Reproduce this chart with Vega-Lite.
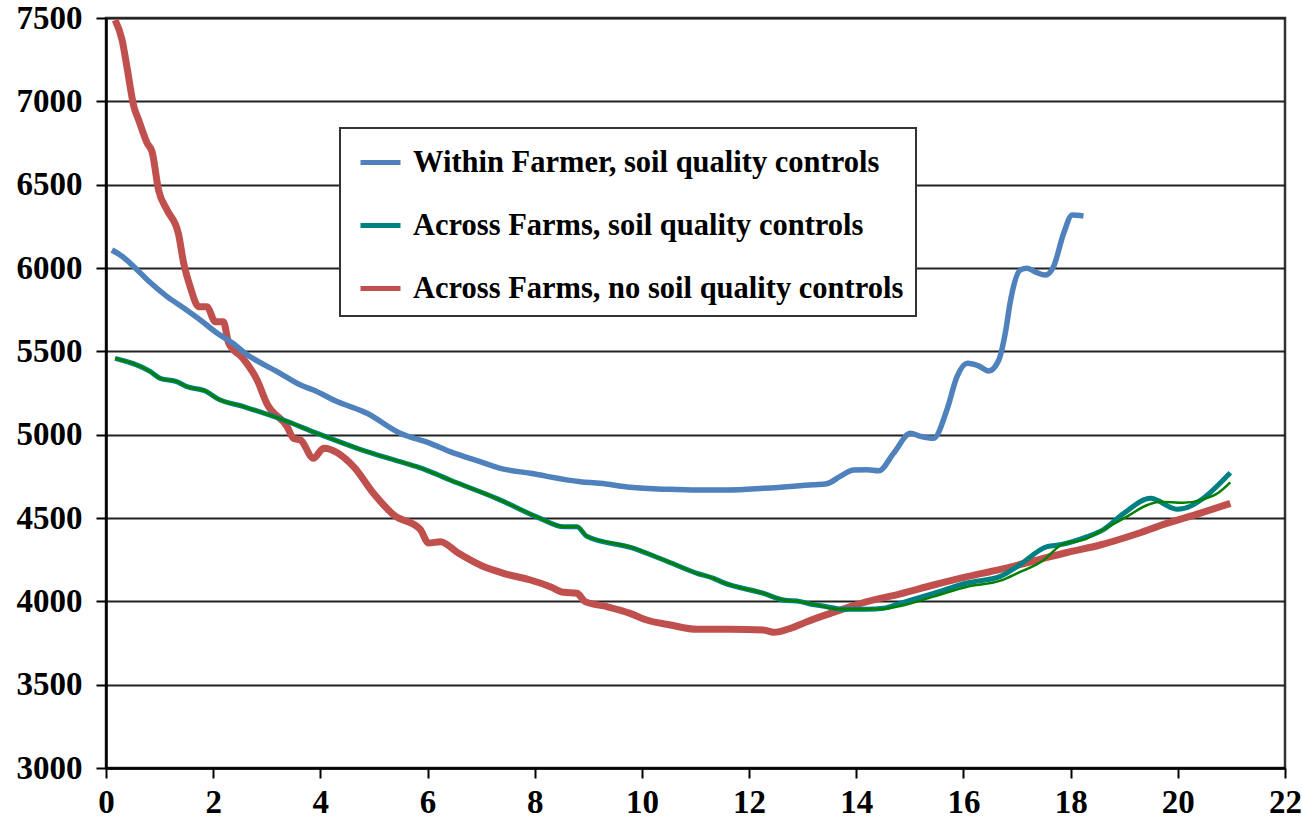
{
  "$schema": "https://vega.github.io/schema/vega-lite/v6.json",
  "width": 1179,
  "height": 750,
  "autosize": {"type": "none"},
  "padding": {"left": 106, "top": 18, "right": 17, "bottom": 68},
  "background": "white",
  "config": {"view": {"stroke": "#333333", "strokeWidth": 2.5}, "font": "Liberation Serif"},
  "datasets": {
    "main": [
      {"s": "Across Farms, no soil quality controls", "x": 0.17, "v": 7488},
      {"s": "Across Farms, no soil quality controls", "x": 0.30, "v": 7368},
      {"s": "Across Farms, no soil quality controls", "x": 0.39, "v": 7208},
      {"s": "Across Farms, no soil quality controls", "x": 0.52, "v": 6968},
      {"s": "Across Farms, no soil quality controls", "x": 0.61, "v": 6888},
      {"s": "Across Farms, no soil quality controls", "x": 0.77, "v": 6748},
      {"s": "Across Farms, no soil quality controls", "x": 0.86, "v": 6698},
      {"s": "Across Farms, no soil quality controls", "x": 0.98, "v": 6468},
      {"s": "Across Farms, no soil quality controls", "x": 1.14, "v": 6348},
      {"s": "Across Farms, no soil quality controls", "x": 1.35, "v": 6208},
      {"s": "Across Farms, no soil quality controls", "x": 1.45, "v": 6028},
      {"s": "Across Farms, no soil quality controls", "x": 1.57, "v": 5888},
      {"s": "Across Farms, no soil quality controls", "x": 1.73, "v": 5768},
      {"s": "Across Farms, no soil quality controls", "x": 1.88, "v": 5768},
      {"s": "Across Farms, no soil quality controls", "x": 2.04, "v": 5678},
      {"s": "Across Farms, no soil quality controls", "x": 2.19, "v": 5678},
      {"s": "Across Farms, no soil quality controls", "x": 2.29, "v": 5548},
      {"s": "Across Farms, no soil quality controls", "x": 2.55, "v": 5460},
      {"s": "Across Farms, no soil quality controls", "x": 2.82, "v": 5328},
      {"s": "Across Farms, no soil quality controls", "x": 3.0, "v": 5188},
      {"s": "Across Farms, no soil quality controls", "x": 3.38, "v": 5048},
      {"s": "Across Farms, no soil quality controls", "x": 3.5, "v": 4978},
      {"s": "Across Farms, no soil quality controls", "x": 3.63, "v": 4968},
      {"s": "Across Farms, no soil quality controls", "x": 3.87, "v": 4858},
      {"s": "Across Farms, no soil quality controls", "x": 4.06, "v": 4918},
      {"s": "Across Farms, no soil quality controls", "x": 4.62, "v": 4808},
      {"s": "Across Farms, no soil quality controls", "x": 4.99, "v": 4648},
      {"s": "Across Farms, no soil quality controls", "x": 5.37, "v": 4518},
      {"s": "Across Farms, no soil quality controls", "x": 5.86, "v": 4433},
      {"s": "Across Farms, no soil quality controls", "x": 6.02, "v": 4350},
      {"s": "Across Farms, no soil quality controls", "x": 6.24, "v": 4358},
      {"s": "Across Farms, no soil quality controls", "x": 6.58, "v": 4288},
      {"s": "Across Farms, no soil quality controls", "x": 7.0, "v": 4215},
      {"s": "Across Farms, no soil quality controls", "x": 7.42, "v": 4168},
      {"s": "Across Farms, no soil quality controls", "x": 7.92, "v": 4128},
      {"s": "Across Farms, no soil quality controls", "x": 8.29, "v": 4088},
      {"s": "Across Farms, no soil quality controls", "x": 8.54, "v": 4054},
      {"s": "Across Farms, no soil quality controls", "x": 8.79, "v": 4048},
      {"s": "Across Farms, no soil quality controls", "x": 8.94, "v": 3998},
      {"s": "Across Farms, no soil quality controls", "x": 9.35, "v": 3968},
      {"s": "Across Farms, no soil quality controls", "x": 9.78, "v": 3928},
      {"s": "Across Farms, no soil quality controls", "x": 10.09, "v": 3888},
      {"s": "Across Farms, no soil quality controls", "x": 10.53, "v": 3858},
      {"s": "Across Farms, no soil quality controls", "x": 11.03, "v": 3832},
      {"s": "Across Farms, no soil quality controls", "x": 11.65, "v": 3832},
      {"s": "Across Farms, no soil quality controls", "x": 12.27, "v": 3828},
      {"s": "Across Farms, no soil quality controls", "x": 12.46, "v": 3814},
      {"s": "Across Farms, no soil quality controls", "x": 12.77, "v": 3838},
      {"s": "Across Farms, no soil quality controls", "x": 13.08, "v": 3878},
      {"s": "Across Farms, no soil quality controls", "x": 13.52, "v": 3928},
      {"s": "Across Farms, no soil quality controls", "x": 14.2, "v": 3998},
      {"s": "Across Farms, no soil quality controls", "x": 14.82, "v": 4045},
      {"s": "Across Farms, no soil quality controls", "x": 15.44, "v": 4098},
      {"s": "Across Farms, no soil quality controls", "x": 16.07, "v": 4148},
      {"s": "Across Farms, no soil quality controls", "x": 16.69, "v": 4192},
      {"s": "Across Farms, no soil quality controls", "x": 17.31, "v": 4242},
      {"s": "Across Farms, no soil quality controls", "x": 17.93, "v": 4293},
      {"s": "Across Farms, no soil quality controls", "x": 18.55, "v": 4338},
      {"s": "Across Farms, no soil quality controls", "x": 19.17, "v": 4398},
      {"s": "Across Farms, no soil quality controls", "x": 19.79, "v": 4468},
      {"s": "Across Farms, no soil quality controls", "x": 20.41, "v": 4528},
      {"s": "Across Farms, no soil quality controls", "x": 20.98, "v": 4588},

      {"s": "Within Farmer, soil quality controls", "x": 0.11, "v": 6108},
      {"s": "Within Farmer, soil quality controls", "x": 0.3, "v": 6070},
      {"s": "Within Farmer, soil quality controls", "x": 0.52, "v": 6008},
      {"s": "Within Farmer, soil quality controls", "x": 0.8, "v": 5920},
      {"s": "Within Farmer, soil quality controls", "x": 1.14, "v": 5828},
      {"s": "Within Farmer, soil quality controls", "x": 1.45, "v": 5760},
      {"s": "Within Farmer, soil quality controls", "x": 1.76, "v": 5688},
      {"s": "Within Farmer, soil quality controls", "x": 2.07, "v": 5610},
      {"s": "Within Farmer, soil quality controls", "x": 2.38, "v": 5545},
      {"s": "Within Farmer, soil quality controls", "x": 2.6, "v": 5488},
      {"s": "Within Farmer, soil quality controls", "x": 3.25, "v": 5368},
      {"s": "Within Farmer, soil quality controls", "x": 3.63, "v": 5298},
      {"s": "Within Farmer, soil quality controls", "x": 3.87, "v": 5268},
      {"s": "Within Farmer, soil quality controls", "x": 4.3, "v": 5200},
      {"s": "Within Farmer, soil quality controls", "x": 4.87, "v": 5128},
      {"s": "Within Farmer, soil quality controls", "x": 5.49, "v": 5008},
      {"s": "Within Farmer, soil quality controls", "x": 6.05, "v": 4948},
      {"s": "Within Farmer, soil quality controls", "x": 6.42, "v": 4898},
      {"s": "Within Farmer, soil quality controls", "x": 6.98, "v": 4838},
      {"s": "Within Farmer, soil quality controls", "x": 7.36, "v": 4798},
      {"s": "Within Farmer, soil quality controls", "x": 7.92, "v": 4768},
      {"s": "Within Farmer, soil quality controls", "x": 8.85, "v": 4718},
      {"s": "Within Farmer, soil quality controls", "x": 9.22, "v": 4708},
      {"s": "Within Farmer, soil quality controls", "x": 9.78, "v": 4684},
      {"s": "Within Farmer, soil quality controls", "x": 10.5, "v": 4672},
      {"s": "Within Farmer, soil quality controls", "x": 11.03, "v": 4668},
      {"s": "Within Farmer, soil quality controls", "x": 11.6, "v": 4668},
      {"s": "Within Farmer, soil quality controls", "x": 12.27, "v": 4678},
      {"s": "Within Farmer, soil quality controls", "x": 12.89, "v": 4692},
      {"s": "Within Farmer, soil quality controls", "x": 13.2, "v": 4700},
      {"s": "Within Farmer, soil quality controls", "x": 13.45, "v": 4706},
      {"s": "Within Farmer, soil quality controls", "x": 13.7, "v": 4750},
      {"s": "Within Farmer, soil quality controls", "x": 13.95, "v": 4788},
      {"s": "Within Farmer, soil quality controls", "x": 14.2, "v": 4790},
      {"s": "Within Farmer, soil quality controls", "x": 14.42, "v": 4784},
      {"s": "Within Farmer, soil quality controls", "x": 14.7, "v": 4890},
      {"s": "Within Farmer, soil quality controls", "x": 15.01, "v": 5008},
      {"s": "Within Farmer, soil quality controls", "x": 15.2, "v": 4990},
      {"s": "Within Farmer, soil quality controls", "x": 15.44, "v": 4978},
      {"s": "Within Farmer, soil quality controls", "x": 15.69, "v": 5148},
      {"s": "Within Farmer, soil quality controls", "x": 15.88, "v": 5348},
      {"s": "Within Farmer, soil quality controls", "x": 16.07, "v": 5428},
      {"s": "Within Farmer, soil quality controls", "x": 16.3, "v": 5410},
      {"s": "Within Farmer, soil quality controls", "x": 16.47, "v": 5382},
      {"s": "Within Farmer, soil quality controls", "x": 16.66, "v": 5448},
      {"s": "Within Farmer, soil quality controls", "x": 16.78, "v": 5608},
      {"s": "Within Farmer, soil quality controls", "x": 16.88, "v": 5808},
      {"s": "Within Farmer, soil quality controls", "x": 17.06, "v": 5988},
      {"s": "Within Farmer, soil quality controls", "x": 17.19, "v": 5998},
      {"s": "Within Farmer, soil quality controls", "x": 17.35, "v": 5975},
      {"s": "Within Farmer, soil quality controls", "x": 17.53, "v": 5958},
      {"s": "Within Farmer, soil quality controls", "x": 17.68, "v": 6008},
      {"s": "Within Farmer, soil quality controls", "x": 17.87, "v": 6208},
      {"s": "Within Farmer, soil quality controls", "x": 18.03, "v": 6318},
      {"s": "Within Farmer, soil quality controls", "x": 18.24, "v": 6312},

      {"s": "Across Farms, soil quality controls", "x": 0.17, "v": 5458},
      {"s": "Across Farms, soil quality controls", "x": 0.83, "v": 5378},
      {"s": "Across Farms, soil quality controls", "x": 1.01, "v": 5338},
      {"s": "Across Farms, soil quality controls", "x": 1.32, "v": 5318},
      {"s": "Across Farms, soil quality controls", "x": 1.51, "v": 5288},
      {"s": "Across Farms, soil quality controls", "x": 1.88, "v": 5258},
      {"s": "Across Farms, soil quality controls", "x": 2.07, "v": 5218},
      {"s": "Across Farms, soil quality controls", "x": 2.57, "v": 5168},
      {"s": "Across Farms, soil quality controls", "x": 3.31, "v": 5088},
      {"s": "Across Farms, soil quality controls", "x": 3.94, "v": 5008},
      {"s": "Across Farms, soil quality controls", "x": 4.87, "v": 4898},
      {"s": "Across Farms, soil quality controls", "x": 5.49, "v": 4838},
      {"s": "Across Farms, soil quality controls", "x": 5.8, "v": 4808},
      {"s": "Across Farms, soil quality controls", "x": 6.05, "v": 4778},
      {"s": "Across Farms, soil quality controls", "x": 6.42, "v": 4728},
      {"s": "Across Farms, soil quality controls", "x": 7.33, "v": 4612},
      {"s": "Across Farms, soil quality controls", "x": 8.1, "v": 4498},
      {"s": "Across Farms, soil quality controls", "x": 8.54, "v": 4448},
      {"s": "Across Farms, soil quality controls", "x": 8.79, "v": 4448},
      {"s": "Across Farms, soil quality controls", "x": 8.97, "v": 4390},
      {"s": "Across Farms, soil quality controls", "x": 9.8, "v": 4322},
      {"s": "Across Farms, soil quality controls", "x": 10.41, "v": 4248},
      {"s": "Across Farms, soil quality controls", "x": 11.03, "v": 4168},
      {"s": "Across Farms, soil quality controls", "x": 11.34, "v": 4138},
      {"s": "Across Farms, soil quality controls", "x": 11.52, "v": 4112},
      {"s": "Across Farms, soil quality controls", "x": 12.27, "v": 4048},
      {"s": "Across Farms, soil quality controls", "x": 12.64, "v": 4008},
      {"s": "Across Farms, soil quality controls", "x": 12.96, "v": 3998},
      {"s": "Across Farms, soil quality controls", "x": 13.14, "v": 3984},
      {"s": "Across Farms, soil quality controls", "x": 13.45, "v": 3968},
      {"s": "Across Farms, soil quality controls", "x": 13.76, "v": 3952},
      {"s": "Across Farms, soil quality controls", "x": 14.2, "v": 3952},
      {"s": "Across Farms, soil quality controls", "x": 14.51, "v": 3958},
      {"s": "Across Farms, soil quality controls", "x": 14.82, "v": 3988},
      {"s": "Across Farms, soil quality controls", "x": 15.44, "v": 4048},
      {"s": "Across Farms, soil quality controls", "x": 16.07, "v": 4110},
      {"s": "Across Farms, soil quality controls", "x": 16.69, "v": 4150},
      {"s": "Across Farms, soil quality controls", "x": 17.0, "v": 4208},
      {"s": "Across Farms, soil quality controls", "x": 17.56, "v": 4328},
      {"s": "Across Farms, soil quality controls", "x": 17.81, "v": 4340},
      {"s": "Across Farms, soil quality controls", "x": 18.31, "v": 4388},
      {"s": "Across Farms, soil quality controls", "x": 18.62, "v": 4432},
      {"s": "Across Farms, soil quality controls", "x": 18.99, "v": 4528},
      {"s": "Across Farms, soil quality controls", "x": 19.49, "v": 4618},
      {"s": "Across Farms, soil quality controls", "x": 19.99, "v": 4552},
      {"s": "Across Farms, soil quality controls", "x": 20.98, "v": 4772}
    ],
    "smooth": [
      {"s": "Across Farms, soil quality controls (smoothed)", "x": 0.17, "v": 5458},
      {"s": "Across Farms, soil quality controls (smoothed)", "x": 0.83, "v": 5378},
      {"s": "Across Farms, soil quality controls (smoothed)", "x": 1.01, "v": 5338},
      {"s": "Across Farms, soil quality controls (smoothed)", "x": 1.32, "v": 5318},
      {"s": "Across Farms, soil quality controls (smoothed)", "x": 1.51, "v": 5288},
      {"s": "Across Farms, soil quality controls (smoothed)", "x": 1.88, "v": 5258},
      {"s": "Across Farms, soil quality controls (smoothed)", "x": 2.07, "v": 5218},
      {"s": "Across Farms, soil quality controls (smoothed)", "x": 2.57, "v": 5168},
      {"s": "Across Farms, soil quality controls (smoothed)", "x": 3.31, "v": 5088},
      {"s": "Across Farms, soil quality controls (smoothed)", "x": 3.94, "v": 5008},
      {"s": "Across Farms, soil quality controls (smoothed)", "x": 4.87, "v": 4898},
      {"s": "Across Farms, soil quality controls (smoothed)", "x": 5.49, "v": 4838},
      {"s": "Across Farms, soil quality controls (smoothed)", "x": 5.8, "v": 4808},
      {"s": "Across Farms, soil quality controls (smoothed)", "x": 6.05, "v": 4778},
      {"s": "Across Farms, soil quality controls (smoothed)", "x": 6.42, "v": 4728},
      {"s": "Across Farms, soil quality controls (smoothed)", "x": 7.33, "v": 4612},
      {"s": "Across Farms, soil quality controls (smoothed)", "x": 8.1, "v": 4498},
      {"s": "Across Farms, soil quality controls (smoothed)", "x": 8.54, "v": 4448},
      {"s": "Across Farms, soil quality controls (smoothed)", "x": 8.79, "v": 4448},
      {"s": "Across Farms, soil quality controls (smoothed)", "x": 8.97, "v": 4392},
      {"s": "Across Farms, soil quality controls (smoothed)", "x": 9.8, "v": 4325},
      {"s": "Across Farms, soil quality controls (smoothed)", "x": 10.41, "v": 4248},
      {"s": "Across Farms, soil quality controls (smoothed)", "x": 11.03, "v": 4168},
      {"s": "Across Farms, soil quality controls (smoothed)", "x": 11.34, "v": 4138},
      {"s": "Across Farms, soil quality controls (smoothed)", "x": 11.52, "v": 4112},
      {"s": "Across Farms, soil quality controls (smoothed)", "x": 12.27, "v": 4048},
      {"s": "Across Farms, soil quality controls (smoothed)", "x": 12.64, "v": 4008},
      {"s": "Across Farms, soil quality controls (smoothed)", "x": 12.96, "v": 3998},
      {"s": "Across Farms, soil quality controls (smoothed)", "x": 13.27, "v": 3978},
      {"s": "Across Farms, soil quality controls (smoothed)", "x": 13.52, "v": 3958},
      {"s": "Across Farms, soil quality controls (smoothed)", "x": 13.76, "v": 3952},
      {"s": "Across Farms, soil quality controls (smoothed)", "x": 14.51, "v": 3955},
      {"s": "Across Farms, soil quality controls (smoothed)", "x": 14.82, "v": 3972},
      {"s": "Across Farms, soil quality controls (smoothed)", "x": 15.44, "v": 4028},
      {"s": "Across Farms, soil quality controls (smoothed)", "x": 16.07, "v": 4088},
      {"s": "Across Farms, soil quality controls (smoothed)", "x": 16.69, "v": 4124},
      {"s": "Across Farms, soil quality controls (smoothed)", "x": 17.0, "v": 4168},
      {"s": "Across Farms, soil quality controls (smoothed)", "x": 17.5, "v": 4248},
      {"s": "Across Farms, soil quality controls (smoothed)", "x": 17.81, "v": 4335},
      {"s": "Across Farms, soil quality controls (smoothed)", "x": 18.31, "v": 4378},
      {"s": "Across Farms, soil quality controls (smoothed)", "x": 18.55, "v": 4420},
      {"s": "Across Farms, soil quality controls (smoothed)", "x": 19.05, "v": 4508},
      {"s": "Across Farms, soil quality controls (smoothed)", "x": 19.43, "v": 4578},
      {"s": "Across Farms, soil quality controls (smoothed)", "x": 19.67, "v": 4598},
      {"s": "Across Farms, soil quality controls (smoothed)", "x": 20.1, "v": 4592},
      {"s": "Across Farms, soil quality controls (smoothed)", "x": 20.48, "v": 4612},
      {"s": "Across Farms, soil quality controls (smoothed)", "x": 20.75, "v": 4650},
      {"s": "Across Farms, soil quality controls (smoothed)", "x": 20.98, "v": 4714}
    ]
  },
  "encoding": {
    "x": {
      "field": "x", "type": "quantitative",
      "scale": {"domain": [0, 22], "nice": false, "zero": false},
      "axis": {
        "title": null, "grid": false, "values": [0, 2, 4, 6, 8, 10, 12, 14, 16, 18, 20, 22],
        "domainColor": "black", "domainWidth": 2.5, "tickColor": "black", "tickWidth": 2, "tickSize": 10,
        "labelFont": "Liberation Serif", "labelFontWeight": "bold", "labelFontSize": 33, "labelColor": "black",
        "labelPadding": 8, "labelFlush": false, "labelOverlap": false
      }
    },
    "y": {
      "field": "v", "type": "quantitative",
      "scale": {"domain": [3000, 7500], "nice": false, "zero": false},
      "axis": {
        "title": null, "grid": true, "gridColor": "#222222", "gridWidth": 2, "values": [3000, 3500, 4000, 4500, 5000, 5500, 6000, 6500, 7000, 7500],
        "format": "d",
        "domainColor": "black", "domainWidth": 2.5, "tickColor": "black", "tickWidth": 2, "tickSize": 10,
        "labelFont": "Liberation Serif", "labelFontWeight": "bold", "labelFontSize": 33, "labelColor": "black",
        "labelPadding": 14, "labelFlush": false, "labelOverlap": false
      }
    },
    "color": {
      "field": "s", "type": "nominal",
      "scale": {
        "domain": ["Within Farmer, soil quality controls", "Across Farms, soil quality controls", "Across Farms, no soil quality controls"],
        "range": ["#4F81BD", "#008080", "#C0504D"]
      },
      "legend": {
        "orient": "none", "legendX": 234, "legendY": 110, "title": null,
        "padding": 12, "strokeColor": "#333333", "fillColor": "white",
        "labelFont": "Liberation Serif", "labelFontWeight": "bold", "labelFontSize": 30.5, "labelColor": "black",
        "labelLimit": 900, "labelOffset": 10, "symbolOffset": 6,
        "symbolType": "stroke", "symbolSize": 1600, "symbolStrokeWidth": 5, "symbolOpacity": 1,
        "rowPadding": 25,
        "encode": {"legend": {"update": {"strokeWidth": {"value": 2}}}}
      }
    }
  },
  "layer": [
    {
      "data": {"name": "main"},
      "transform": [{"filter": "datum.s === 'Across Farms, no soil quality controls'"}],
      "mark": {"type": "line", "interpolate": "monotone", "strokeWidth": 7, "strokeJoin": "round", "clip": true}
    },
    {
      "data": {"name": "main"},
      "transform": [{"filter": "datum.s === 'Within Farmer, soil quality controls'"}],
      "mark": {"type": "line", "interpolate": "monotone", "strokeWidth": 5.5, "strokeJoin": "round", "clip": true}
    },
    {
      "data": {"name": "main"},
      "transform": [{"filter": "datum.s === 'Across Farms, soil quality controls'"}],
      "mark": {"type": "line", "interpolate": "monotone", "strokeWidth": 5, "strokeJoin": "round", "clip": true}
    },
    {
      "data": {"name": "smooth"},
      "mark": {"type": "line", "interpolate": "monotone", "color": "#008000", "strokeWidth": 2.5, "clip": true},
      "encoding": {"color": {"value": "#008000"}}
    }
  ]
}
